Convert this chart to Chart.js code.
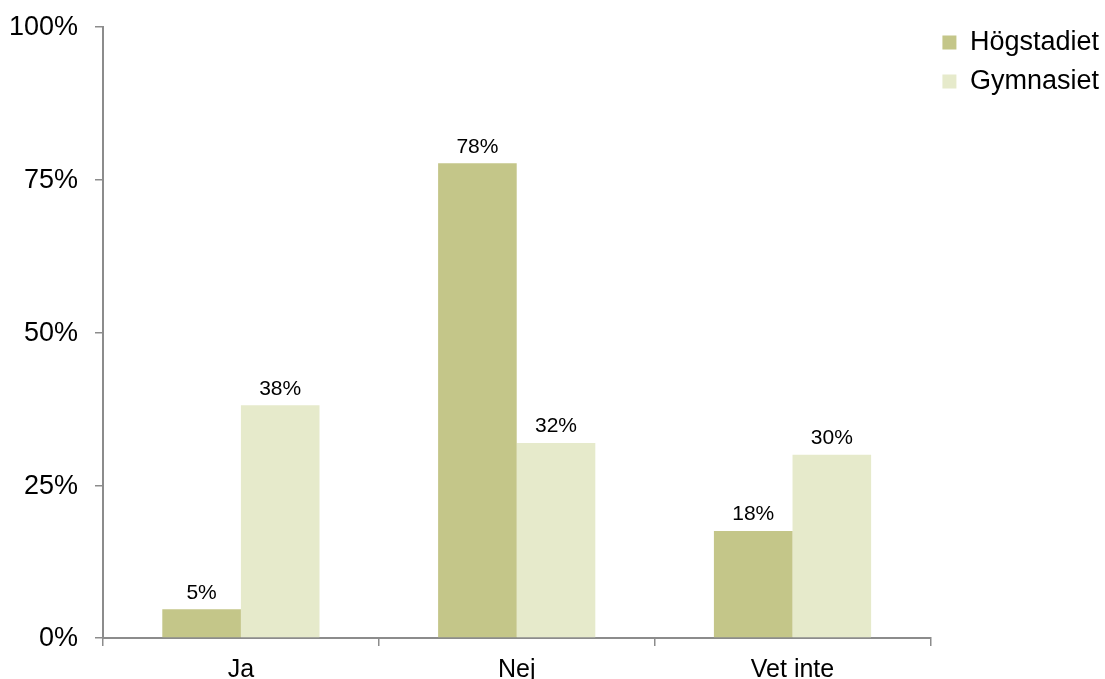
<!DOCTYPE html>
<html lang="sv">
<head>
    <meta charset="UTF-8">
    <title>Ja / Nej / Vet inte</title>
    <script src="https://cdn.jsdelivr.net/npm/chart.js"></script>
    <style>
        body { margin: 0; background: #fff; overflow: hidden; }
    </style>
</head>
<body>
    <canvas id="grafico" width="1105" height="679"></canvas>

    <script>
    const kategorier = ['Ja', 'Nej', 'Vet inte'];
    const hogstadiet = [4.7, 77.7, 17.5];
    const gymnasiet = [38.1, 31.9, 30.0];
    const yTicks = [0, 25, 50, 75, 100];

    const fonte = '"Liberation Sans", Arial, sans-serif';
    const axelFarg = '#8c8c8c';

    // etiketter ovanför staplarna
    const stapelEtiketter = {
        id: 'stapelEtiketter',
        afterDatasetsDraw(chart) {
            const ctx = chart.ctx;
            ctx.save();
            ctx.font = '21px ' + fonte;
            ctx.fillStyle = '#000';
            ctx.textAlign = 'center';
            ctx.textBaseline = 'bottom';
            chart.data.datasets.forEach((ds, i) => {
                chart.getDatasetMeta(i).data.forEach((bar, j) => {
                    ctx.fillText(Math.round(ds.data[j]) + '%', bar.x, bar.y - 6);
                });
            });
            ctx.restore();
        }
    };

    const ctx = document.getElementById('grafico').getContext('2d');
    const chart = new Chart(ctx, {
        type: 'bar',
        data: {
            labels: kategorier,
            datasets: [
                { label: 'Högstadiet', data: hogstadiet, backgroundColor: '#c4c689' },
                { label: 'Gymnasiet', data: gymnasiet, backgroundColor: '#e6eacb' }
            ]
        },
        options: {
            responsive: false,
            animation: false,
            categoryPercentage: 0.57,
            barPercentage: 1,
            layout: { padding: { top: 17, right: -4, bottom: 0, left: 0 } },
            plugins: {
                tooltip: { enabled: false },
                legend: {
                    position: 'right',
                    align: 'start',
                    labels: {
                        boxWidth: 14,
                        boxHeight: 14,
                        padding: 12,
                        color: '#000',
                        font: { family: fonte, size: 27 }
                    }
                }
            },
            scales: {
                x: {
                    afterFit: s => { s.height = 41; },
                    grid: {
                        display: true,
                        drawOnChartArea: false,
                        offset: true,
                        tickLength: 8,
                        color: axelFarg,
                        lineWidth: 1.5
                    },
                    border: { color: axelFarg, width: 2 },
                    ticks: {
                        color: '#000',
                        padding: 9,
                        font: { family: fonte, size: 25 }
                    }
                },
                y: {
                    min: 0,
                    max: 100,
                    afterFit: s => { s.width = 103; s.paddingTop = 27; },
                    afterBuildTicks: s => { s.ticks = yTicks.map(v => ({ value: v })); },
                    grid: {
                        display: true,
                        drawOnChartArea: false,
                        tickLength: 8,
                        color: axelFarg,
                        lineWidth: 1.5
                    },
                    border: { color: axelFarg, width: 2 },
                    ticks: {
                        color: '#000',
                        padding: 17,
                        labelOffset: 1,
                        font: { family: fonte, size: 27 },
                        callback: v => v + '%'
                    }
                }
            }
        },
        plugins: [stapelEtiketter]
    });
    </script>
</body>
</html>
